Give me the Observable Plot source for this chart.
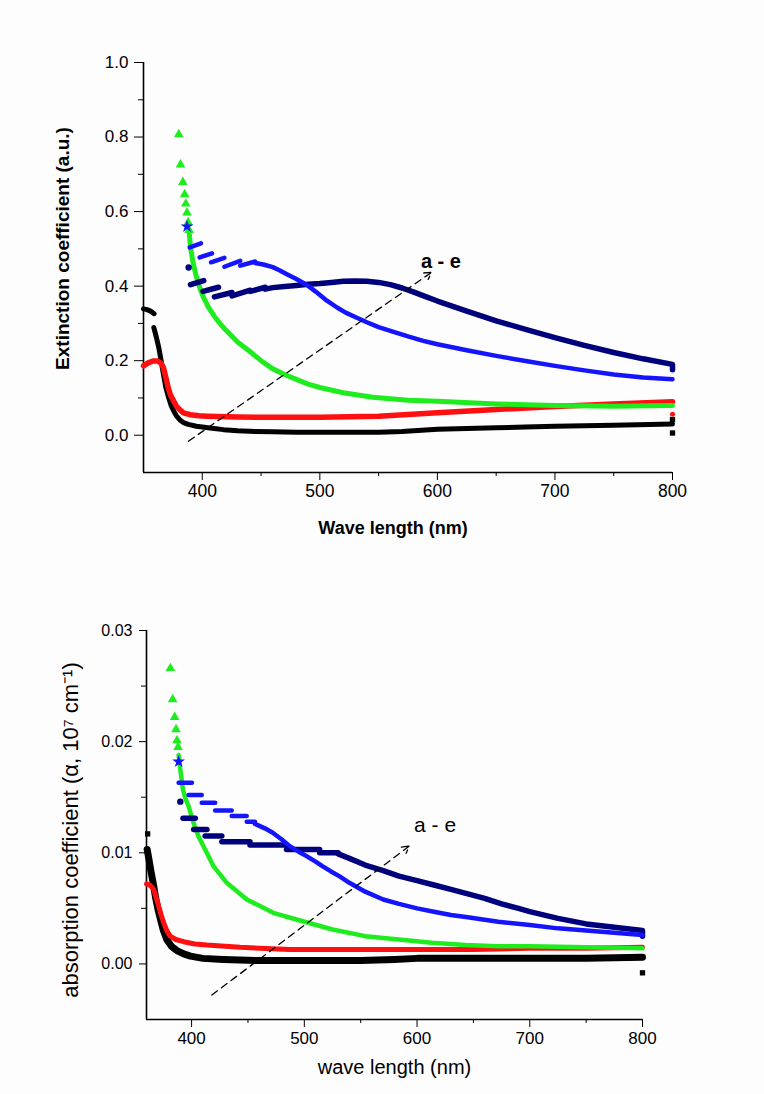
<!DOCTYPE html>
<html><head><meta charset="utf-8">
<script src="https://cdn.jsdelivr.net/npm/d3@7"></script>
<script src="https://cdn.jsdelivr.net/npm/@observablehq/plot@0.6"></script>
<style>
html,body{margin:0;padding:0;background:#fdfdfd;}
#wrap{width:764px;height:1094px;}
svg{display:block;}
</style></head><body><div id="wrap"></div>
<script>
// ---------- TOP CHART DATA (Extinction coefficient) ----------
const topXTicks = [400, 500, 600, 700, 800];
const topXMinor = [450, 550, 650, 750];
const topYTicks = [0.0, 0.2, 0.4, 0.6, 0.8, 1.0];
const topYMinor = [0.1, 0.3, 0.5, 0.7, 0.9];
const topBlackHook = [[350,0.339],[353,0.337],[356,0.333],[359,0.326]];
const topBlack = [[358.8,0.289],[361,0.262],[363,0.235],[365,0.2],[367,0.163],[369,0.128],[371.5,0.1],[373.5,0.08],[375.7,0.065],[378,0.052],[381,0.041],[384,0.034],[388,0.029],[395,0.024],[400,0.022],[410,0.018],[418,0.015],[430,0.012],[445,0.010],[460,0.009],[480,0.008],[500,0.008],[530,0.008],[550,0.008],[570,0.010],[590,0.014],[600,0.016],[625,0.018],[650,0.020],[675,0.022],[700,0.024],[750,0.027],[800,0.030]];
const topBlackEnd = [[800,0.042],[800,0.006]];
const topRed = [[350,0.186],[354,0.194],[358,0.199],[362,0.199],[365,0.193],[367,0.181],[369,0.155],[371,0.128],[373,0.108],[375.7,0.092],[378,0.078],[381,0.068],[384,0.06],[390,0.055],[397,0.052],[404,0.051],[430,0.049],[460,0.048],[500,0.048],[550,0.051],[600,0.060],[650,0.069],[700,0.077],[750,0.084],[800,0.090]];
const topRedEnd = [[800,0.056]];
const topGreenMarks = [[380,0.807],[381.5,0.726],[383.5,0.679],[385,0.646],[386,0.621],[387,0.597],[388,0.571],[388.8,0.55]];
const topGreen = [[389,0.54],[390,0.505],[392,0.465],[395,0.425],[398,0.395],[401,0.37],[405,0.345],[410,0.32],[415,0.3],[420,0.282],[430,0.25],[440,0.226],[450,0.2],[460,0.178],[470,0.163],[480,0.15],[490,0.137],[500,0.128],[520,0.114],[545,0.102],[575,0.094],[600,0.091],[650,0.084],[700,0.080],[750,0.078],[800,0.080]];
const topBlueStar = [[387,0.56]];
const topBlueDashes = [[389.3,0.504,398.9,0.515],[397.8,0.477,408.3,0.488],[407.4,0.464,418.8,0.476],[418.8,0.452,432.3,0.468],[432.3,0.455,445,0.466]];
const topBlue = [[445,0.462],[452,0.458],[460,0.451],[466,0.442],[472,0.432],[480,0.419],[489,0.403],[497,0.384],[506,0.361],[515,0.342],[522,0.329],[531,0.316],[540,0.303],[550,0.29],[560,0.28],[575,0.265],[588,0.253],[600,0.244],[625,0.228],[650,0.213],[675,0.199],[700,0.186],[725,0.174],[750,0.163],[775,0.155],[800,0.15]];
const topNavyDot = [[388.4,0.45]];
const topNavyDashes = [[390,0.404,401.2,0.415],[400.6,0.386,413.8,0.397],[410.3,0.371,425.3,0.383],[425.3,0.374,440.8,0.389],[440.8,0.386,453.6,0.397]];
const topNavy = [[453.6,0.392],[460,0.396],[470,0.399],[480,0.402],[490,0.405],[500,0.407],[510,0.41],[520,0.413],[530,0.414],[540,0.413],[550,0.41],[560,0.404],[570,0.395],[580,0.384],[590,0.372],[600,0.36],[625,0.333],[650,0.307],[675,0.284],[700,0.262],[725,0.241],[750,0.222],[775,0.205],[800,0.19],[800,0.176]];
const topArrow = [[388.2,-0.016,595,0.437]];
const topNote = [[603,0.467,"a - e"]];

// ---------- BOTTOM CHART DATA (absorption coefficient) ----------
const botXTicks = [400, 500, 600, 700, 800];
const botXMinor = [450, 550, 650, 750];
const botYTicks = [0.00, 0.01, 0.02, 0.03];
const botYMinor = [0.005, 0.015, 0.025];
const botBlack = [[360.6,0.0103],[362,0.0095],[364,0.0083],[366.4,0.007],[368,0.006],[370,0.005],[372.4,0.004],[375,0.003],[378,0.0022],[382,0.0016],[387,0.0012],[393,0.0009],[399,0.0007],[410,0.0005],[428,0.0004],[458,0.0003],[500,0.0003],[550,0.0003],[580,0.0004],[600,0.0005],[650,0.0005],[700,0.0005],[750,0.0005],[800,0.0006]];
const botBlackMarks = [[361,0.0117],[800,-0.0008]];
const botRed = [[360,0.0072],[363,0.0071],[366.4,0.0067],[368.5,0.006],[370.8,0.0052],[373,0.0044],[375.3,0.0037],[378,0.003],[381,0.0025],[386,0.0022],[393,0.002],[403,0.0018],[413.6,0.0017],[443,0.0015],[487,0.0013],[531,0.0013],[575,0.0013],[600,0.0013],[650,0.0013],[700,0.0014],[750,0.0014],[800,0.0015]];
const botGreenMarks = [[381.2,0.0266],[383.2,0.0238],[385,0.0222],[386.2,0.0211],[387.1,0.0201],[388,0.0195]];
const botGreen = [[388.5,0.0188],[390,0.0175],[392.3,0.0157],[394.5,0.0149],[397.3,0.0142],[401.7,0.0127],[406,0.0115],[412,0.0103],[419.4,0.0088],[431.2,0.0073],[449,0.0058],[472.4,0.0046],[493,0.004],[525,0.0031],[554,0.0025],[584,0.0022],[613,0.0019],[643,0.0017],[672,0.0016],[700,0.0016],[750,0.0015],[800,0.0014]];
const botBlueStar = [[388.5,0.0182]];
const botBlueDashes = [[388.5,0.0163,400.3,0.0163],[397.3,0.0152,409,0.0152],[409,0.0145,420.9,0.0145],[420.9,0.0138,435.6,0.0138],[435.6,0.0133,448.9,0.0133],[448.9,0.0128,456.2,0.0128]];
const botBlue = [[456.2,0.0126],[465,0.0122],[472,0.0118],[480,0.0112],[487,0.0106],[495,0.0101],[502,0.0097],[510,0.0092],[516,0.0088],[524,0.0083],[531,0.0079],[540,0.0073],[554,0.0065],[570,0.0058],[584,0.0054],[600,0.0050],[615,0.0047],[630,0.0044],[645,0.0042],[672,0.0038],[700,0.0035],[725,0.0032],[750,0.003],[775,0.0028],[800,0.0026]];
const botNavyDot = [[390,0.0146]];
const botNavyDashes = [[392.4,0.0131,403.3,0.0131],[401.8,0.0121,413.6,0.0121],[412,0.0115,426.8,0.0115],[426.8,0.011,451.8,0.011],[451.8,0.0107,484.2,0.0107],[484.2,0.0103,513.6,0.0103],[513.6,0.01,530,0.01]];
const botNavy = [[530,0.0099],[540,0.0095],[554,0.0089],[570,0.0084],[584,0.0079],[600,0.0075],[615,0.0071],[630,0.0067],[645,0.0063],[660,0.0059],[675,0.0054],[690,0.005],[700,0.0047],[725,0.0041],[750,0.0036],[775,0.0033],[800,0.003],[800,0.0025]];
const botArrow = [[418,-0.0028,593,0.0106]];
const botNote = [[616,0.0125,"a - e"]];

// ---------- COLOURS ----------
const C = {black:"#000000", red:"#ff1010", green:"#1fec1f", blue:"#1414ff", navy:"#00007c"};
const FONT = "'Liberation Sans', Arial, Helvetica, sans-serif";

const P = a => a.map(([x,y]) => ({x,y}));
const S = a => a.map(([x1,y1,x2,y2]) => ({x1,y1,x2,y2}));

function makeChart(o) {
  const line = (d, color, w) => Plot.line(P(d), {x:"x", y:"y", stroke:color, strokeWidth:w, strokeLinejoin:"round", strokeLinecap:"round"});
  const dashes = (d, color, w) => Plot.link(S(d), {x1:"x1", y1:"y1", x2:"x2", y2:"y2", stroke:color, strokeWidth:w, strokeLinecap:"round"});
  const marks = [
    Plot.axisX({ticks:o.xTicks, tickSize:8, tickPadding:4, fontSize:o.xTickFont, tickFormat:d=>String(d), label:null}),
    Plot.axisX({ticks:o.xMinor, tickSize:4, tickFormat:()=>"", label:null}),
    Plot.axisY({ticks:o.yTicks, tickSize:o.yTickSize, tickPadding:o.yTickPad, fontSize:o.yTickFont, tickFormat:d3.format(o.yFmt), label:null}),
    Plot.axisY({ticks:o.yMinor, tickSize:5, tickFormat:()=>"", label:null}),
    Plot.ruleX([o.xDomain[0]], {stroke:"#000", strokeWidth:1.6}),
    Plot.ruleY([o.yDomain[0]], {stroke:"#000", strokeWidth:1.6}),
    ...(o.blackHook ? [line(o.blackHook, C.black, o.wBlack)] : []),
    line(o.black, C.black, o.wBlack),
    Plot.dot(P(o.blackMarks), {x:"x", y:"y", symbol:"square", r:3, fill:C.black}),
    line(o.red, C.red, o.wRed),
    Plot.dot(P(o.redMarks), {x:"x", y:"y", r:2.5, fill:C.red}),
    line(o.green, C.green, o.wGreen),
    Plot.dot(P(o.greenMarks), {x:"x", y:"y", symbol:"triangle", r:3.6, fill:C.green}),
    dashes(o.navyDashes, C.navy, o.wNavy),
    line(o.navy, C.navy, o.wNavy),
    Plot.dot(P(o.navyDot), {x:"x", y:"y", r:3.2, fill:C.navy}),
    dashes(o.blueDashes, C.blue, o.wBlue),
    line(o.blue, C.blue, o.wBlue),
    Plot.dot(P(o.blueStar), {x:"x", y:"y", symbol:"star", r:4, fill:C.blue}),
    Plot.arrow(S(o.arrow), {x1:"x1", y1:"y1", x2:"x2", y2:"y2", stroke:"#000", strokeWidth:1.3, strokeDasharray:"7,5", headLength:9}),
    Plot.text(o.note, {x:d=>d[0], y:d=>d[1], text:d=>d[2], fontSize:o.noteFont, fontWeight:o.noteWeight, fill:"#000"}),
    Plot.text([o.yLabel], {frameAnchor:"left", textAnchor:"middle", dx:o.yLabelDx, dy:o.yLabelDy, rotate:-90, text:d=>d, fontSize:o.yLabelFont, fontWeight:o.labelWeight, fill:"#000"}),
    Plot.text([o.xLabel], {frameAnchor:"bottom", textAnchor:"middle", dx:o.xLabelDx, dy:o.xLabelDy, text:d=>d, fontSize:o.xLabelFont, fontWeight:o.labelWeight, fill:"#000"})
  ];
  return Plot.plot({
    width:764, height:o.height,
    marginLeft:o.ml, marginRight:o.mr, marginTop:o.mt, marginBottom:o.mb,
    style:{background:"transparent", fontFamily:FONT, color:"#000", overflow:"visible"},
    x:{domain:o.xDomain}, y:{domain:o.yDomain},
    marks
  });
}

const topChart = makeChart({
  height:560, ml:143, mr:92, mt:62, mb:88,
  xDomain:[350,800], yDomain:[-0.1,1.0],
  xTicks:topXTicks, xMinor:topXMinor, yTicks:topYTicks, yMinor:topYMinor, yFmt:".1f",
  xTickFont:17.5, yTickFont:17, yTickSize:9, yTickPad:6,
  blackHook:topBlackHook, black:topBlack, blackMarks:topBlackEnd,
  red:topRed, redMarks:topRedEnd,
  green:topGreen, greenMarks:topGreenMarks,
  blue:topBlue, blueDashes:topBlueDashes, blueStar:topBlueStar,
  navy:topNavy, navyDashes:topNavyDashes, navyDot:topNavyDot,
  wBlack:5, wRed:5.5, wGreen:5, wBlue:4.5, wNavy:5.5,
  arrow:topArrow, note:topNote, noteFont:20, noteWeight:"bold",
  yLabel:"Extinction coefficient (a.u.)", yLabelDx:-81, yLabelDy:-19, yLabelFont:19,
  xLabel:"Wave length (nm)", xLabelDx:-15, xLabelDy:61, xLabelFont:18,
  labelWeight:"bold"
});

const bottomChart = makeChart({
  height:534, ml:146, mr:122, mt:70, mb:75,
  xDomain:[360,800], yDomain:[-0.005,0.03],
  xTicks:botXTicks, xMinor:botXMinor, yTicks:botYTicks, yMinor:botYMinor, yFmt:".2f",
  xTickFont:17, yTickFont:16, yTickSize:7, yTickPad:7,
  black:botBlack, blackMarks:botBlackMarks,
  red:botRed, redMarks:[],
  green:botGreen, greenMarks:botGreenMarks,
  blue:botBlue, blueDashes:botBlueDashes, blueStar:botBlueStar,
  navy:botNavy, navyDashes:botNavyDashes, navyDot:botNavyDot,
  wBlack:7, wRed:5, wGreen:4.5, wBlue:4.5, wNavy:5.5,
  arrow:botArrow, note:botNote, noteFont:21, noteWeight:"normal",
  yLabel:"absorption coefficient (\u03b1, 10\u2077 cm\u207b\u00b9)", yLabelDx:-76, yLabelDy:5, yLabelFont:22,
  xLabel:"wave length (nm)", xLabelDx:0, xLabelDy:54, xLabelFont:20,
  labelWeight:"normal"
});

const wrap = document.getElementById("wrap");
wrap.appendChild(topChart);
wrap.appendChild(bottomChart);
</script>
</body></html>
